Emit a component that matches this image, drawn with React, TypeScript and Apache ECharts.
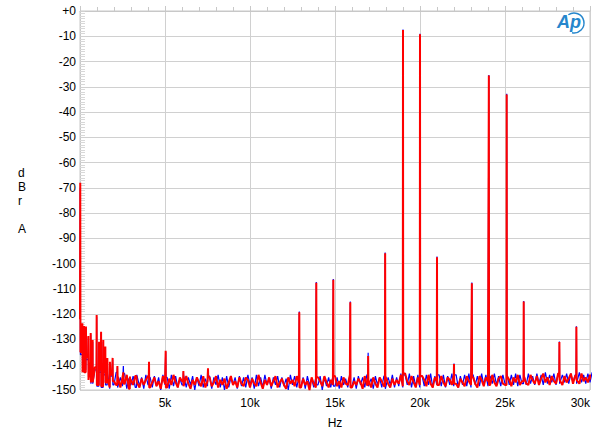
import React, { useEffect, useRef } from "react";
import * as echarts from "echarts";

const NOISE_STEP_HZ = 125;
const redNoise: number[] = [
  -122, -135, -143, -137, -146, -139, -147, -141, -148, -142,
  -148.5, -143, -147, -145.5, -149, -144, -146.5, -148, -144.5, -149,
  -145, -147.5, -144, -149.5, -146, -148, -144.5, -147, -149, -145.5,
  -148, -146, -144.5, -149, -147, -145, -148.5, -146.5, -149.5, -144.5,
  -147.5, -149, -145.5, -148, -144, -147, -149, -145, -146.5, -148.5,
  -144.5, -147.5, -149.5, -146, -148, -145, -147, -148.5, -144.5, -149,
  -146.5, -145, -148.5, -147, -144.5, -149, -146, -148, -145.5, -149.5,
  -147, -144.5, -148, -146.5, -149, -145, -147.5, -148.5, -145, -146,
  -149, -145.5, -147.5, -148.5, -144, -147, -149.5, -146, -148, -145,
  -148.5, -146.5, -144.5, -149, -147, -145.5, -148, -149.5, -145, -147.5,
  -146, -148.5, -144.5, -147, -149, -145.5, -148, -146.5, -150, -145,
  -147.5, -149, -145, -146.5, -148.5, -144.5, -147, -149, -146, -148,
  -144.5, -148.5, -146.5, -149, -145, -147.5, -148, -144, -149, -146.5,
  -148, -145.5, -147, -149.5, -144.5, -148, -146, -149, -145, -147.5,
  -149, -145, -146.5, -148.5, -144.5, -147.5, -149, -145.5, -148, -146,
  -147.5, -144, -148.5, -143.5, -146.5, -148, -144.5, -147, -149, -145,
  -148, -144.5, -146, -148.5, -144, -147.5, -149, -145, -146.5, -148,
  -144.5, -147, -148.5, -145, -146, -148, -144, -147.5, -149, -145.5,
  -147, -148.5, -144.5, -146.5, -148, -145, -147.5, -149, -144.5, -146,
  -148.5, -145, -146.5, -148, -144, -147, -148.5, -145.5, -144.5, -147.5,
  -148, -144.5, -146, -148.5, -145, -147, -144, -148, -146.5, -144.5,
  -147.5, -148, -144, -146, -147.5, -144.5, -148, -145.5, -143.5, -147,
  -145, -148, -144.5, -146.5, -147.5, -143.5, -146, -148, -144.5, -147,
  -145.5, -143.5, -147.5, -144.5, -146, -147.5, -143.5, -146.5, -145, -147,
  -144, -146.5, -143.5, -147, -145,
];
const blueNoise: number[] = [
  -120, -136, -142, -138, -145, -140, -147.5, -142, -148.5, -143,
  -149, -144, -148, -143.5, -149.5, -144.5, -148, -143, -149, -145,
  -148.5, -143.5, -149.5, -145.5, -148, -144.5, -149, -144, -148.5, -145,
  -149.5, -144, -148, -145, -149, -144.5, -148.5, -145, -150, -144,
  -148, -145, -149.5, -144, -148.5, -144.5, -149, -145.5, -148, -144,
  -149, -145, -148, -144.5, -150, -145, -148.5, -144, -149, -145.5,
  -148.5, -144.5, -149.5, -145, -148, -144, -149, -145, -150, -144.5,
  -149, -145, -148, -145, -149.5, -144.5, -148.5, -145, -149, -144,
  -148, -145, -149.5, -144, -148.5, -145, -149, -144, -148, -145.5,
  -149.5, -145, -148, -144.5, -149, -145, -148.5, -145.5, -150, -144,
  -148, -144.5, -149, -145, -148.5, -145, -149.5, -144.5, -148, -145.5,
  -149, -145, -148, -144.5, -150, -145, -148.5, -145, -149, -144.5,
  -148.5, -145, -149.5, -144.5, -148, -145.5, -149, -144, -148.5, -145,
  -149.5, -144.5, -148, -145, -149, -144, -148.5, -145.5, -149.5, -144.5,
  -148, -145, -149, -144.5, -149.5, -145, -148, -144, -149, -145,
  -148.5, -143.5, -149, -144, -148, -143.5, -149, -144.5, -148.5, -144,
  -149, -144.5, -148.5, -144, -148, -143.5, -149, -144.5, -148, -144,
  -148.5, -144, -149, -144.5, -148, -143.5, -148.5, -144, -149, -144.5,
  -148, -144, -148.5, -143.5, -149, -144, -148, -144.5, -148.5, -143.5,
  -148, -144, -148.5, -144.5, -147.5, -143.5, -148, -144.5, -148.5, -144,
  -147.5, -143.5, -148, -144, -148, -143.5, -148.5, -144, -147.5, -144,
  -148, -143.5, -147.5, -144.5, -148, -143.5, -147.5, -144, -148, -143,
  -147.5, -144, -147, -143.5, -148, -143.5, -147.5, -144, -147, -143.5,
  -147.5, -143.5, -147, -144, -147.5, -143, -147, -144, -147.5, -143.5,
  -147, -143, -147.5, -143.5, -146.5,
];

// Discrete spectral lines: frequency (Hz) and level (dBr A)
const spikeFreqs: number[] = [
  15, 140, 235, 350, 490, 630, 745, 980, 1120, 1240, 1370, 1490, 1610, 1760,
  1920, 2200, 2550, 2940, 3330, 4060, 5040, 6080, 7530,
  12900, 13900, 14900, 15900, 16950, 17950, 19000, 20000, 21000, 22000,
  23050, 24050, 25100, 26100, 28200, 29200,
];
const redSpikeLevels: number[] = [
  -68, -123.6, -124.7, -124.9, -128.6, -127.4, -130.2, -120.3, -130.9, -126.9,
  -130.2, -132.8, -137.3, -138.8, -137.3, -140.5, -143, -144.7, -145.2, -138.8,
  -134.5, -142.5, -141.4,
  -119.2, -107.6, -106.4, -115.3, -136.5, -95.9, -7.5, -9.2, -97.5, -139.7,
  -107.8, -25.5, -33, -115, -131, -125,
];
const blueSpikeLevels: number[] = [
  -70, -124, -125.5, -125.5, -129, -128, -131, -121, -131.5, -127.5,
  -131, -133.5, -138, -139.5, -138, -141, -140.5, -145.5, -146, -139.5,
  -135, -143, -142,
  -118.9, -107.3, -106.1, -115, -135.3, -95.6, -7.3, -9, -97.2, -139.5,
  -107.5, -25.3, -32.8, -114.8, -130.8, -124.8,
];

const X_MIN = 0;
const X_MAX = 30000;
const X_INTERVAL = 5000;
const Y_MIN = -150;
const Y_MAX = 0;
const Y_INTERVAL = 10;

function buildSeries(noise: number[], levels: number[]): [number, number][] {
  const pts: [number, number][] = noise.map((v, i) => [i * NOISE_STEP_HZ, v]);
  spikeFreqs.forEach((f, k) => {
    const lo = Math.min(noise.length - 1, Math.floor(f / NOISE_STEP_HZ));
    const hi = Math.min(noise.length - 1, lo + 1);
    pts.push([Math.max(0, f - 12), noise[lo]]);
    pts.push([f, levels[k]]);
    pts.push([f + 12, noise[hi]]);
  });
  pts.sort((a, b) => a[0] - b[0]);
  return pts;
}

const FONT = "'Liberation Sans', Arial, sans-serif";

export default function App() {
  const ref = useRef<HTMLDivElement>(null);
  useEffect(() => {
    if (!ref.current) return;
    const chart = echarts.init(ref.current, undefined, { renderer: "svg" });
    chart.setOption({
      animation: false,
      backgroundColor: "#ffffff",
      grid: {
        left: 80,
        right: 10,
        top: 11,
        bottom: 45,
        show: true,
        borderColor: "#c8c8c8",
        borderWidth: 1,
      },
      xAxis: {
        type: "value",
        min: X_MIN,
        max: X_MAX,
        interval: X_INTERVAL,
        name: "Hz",
        nameLocation: "middle",
        nameGap: 27,
        nameTextStyle: { color: "#000", fontSize: 12, fontFamily: FONT },
        axisLine: { show: true, lineStyle: { color: "#c8c8c8" } },
        axisTick: { show: true, inside: true, length: 5, lineStyle: { color: "#c8c8c8" } },
        minorTick: { show: true, splitNumber: 5, length: 4, lineStyle: { color: "#c8c8c8" } },
        axisLabel: {
          color: "#000",
          fontSize: 12,
          fontFamily: FONT,
          margin: 7,
          alignMaxLabel: "right",
          formatter: (v: number) => (v === 0 ? "" : `${v / 1000}k`),
        },
        splitLine: { show: true, lineStyle: { color: "#d0d0d0", width: 1 } },
      },
      yAxis: {
        type: "value",
        min: Y_MIN,
        max: Y_MAX,
        interval: Y_INTERVAL,
        axisLine: { show: true, lineStyle: { color: "#c8c8c8" } },
        axisTick: { show: true, inside: true, length: 5, lineStyle: { color: "#d0d0d0" } },
        minorTick: { show: true, splitNumber: 10, length: 5, lineStyle: { color: "#d8d8d8" } },
        axisLabel: {
          color: "#000",
          fontSize: 12,
          fontFamily: FONT,
          margin: 4,
          formatter: (v: number) => (v === 0 ? "+0" : `${v}`),
        },
        splitLine: { show: true, lineStyle: { color: "#d0d0d0", width: 1 } },
      },
      series: [
        {
          name: "Ch B",
          type: "line",
          data: buildSeries(blueNoise, blueSpikeLevels),
          showSymbol: false,
          symbol: "none",
          lineStyle: { color: "#0000ff", width: 1.2 },
          z: 2,
        },
        {
          name: "Ch A",
          type: "line",
          data: buildSeries(redNoise, redSpikeLevels),
          showSymbol: false,
          symbol: "none",
          lineStyle: { color: "#ff0000", width: 2 },
          z: 3,
        },
      ],
      graphic: [
        {
          type: "text",
          left: 18,
          top: 166,
          style: {
            text: "d\nB\nr\n\nA",
            fill: "#000",
            font: `12px ${FONT}`,
            lineHeight: 14,
            align: "center",
          },
        },
        {
          type: "text",
          x: 557,
          y: 13,
          style: {
            text: "Ap",
            fill: "#2686cc",
            font: `italic bold 18px ${FONT}`,
          },
        },
        {
          type: "arc",
          shape: { cx: 574, cy: 23, r: 10, startAngle: -Math.PI / 2 - 0.6, endAngle: Math.PI / 2 + 0.2 },
          style: { stroke: "#2686cc", lineWidth: 1.5, fill: "none" },
        },
      ],
    });
    return () => chart.dispose();
  }, []);
  return (
    <div
      ref={ref}
      style={{ position: "fixed", left: 0, top: 0, width: 600, height: 435 }}
    />
  );
}
